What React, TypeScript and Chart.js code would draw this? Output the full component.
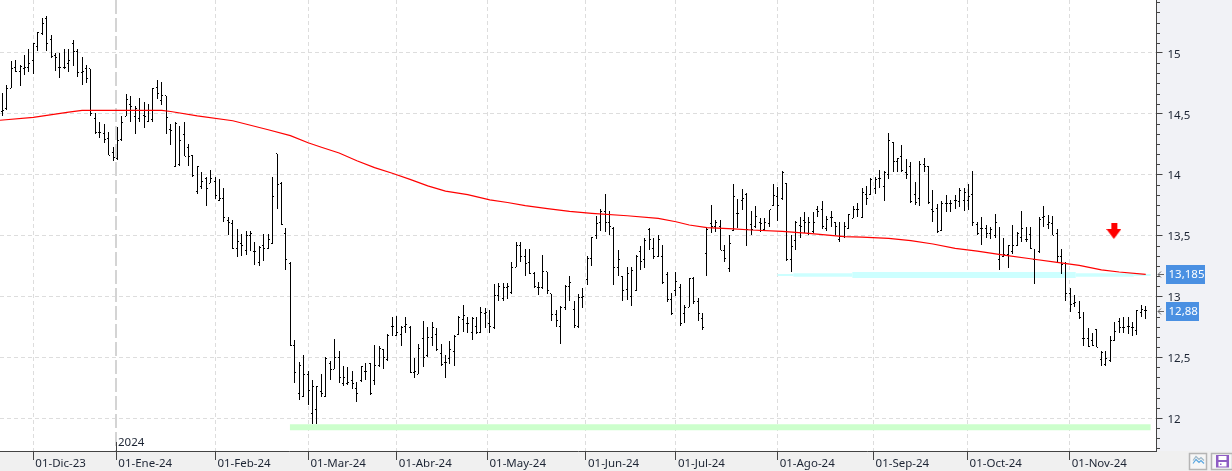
import React, { useEffect, useRef } from "react";
import { Chart, registerables } from "chart.js";

Chart.register(...registerables);

const highs = [14.67,14.74,14.93,14.94,14.90,14.98,15.03,15.08,15.17,15.29,15.30,15.15,15.00,15.00,15.03,15.03,15.11,15.03,14.97,14.90,14.87,14.51,14.43,14.42,14.35,14.23,14.39,14.48,14.66,14.65,14.56,14.63,14.60,14.58,14.71,14.78,14.76,14.65,14.42,14.43,14.40,14.43,14.25,14.16,14.07,14.02,13.98,14.04,13.98,13.96,13.89,13.65,
13.63,13.55,13.51,13.54,13.54,13.45,13.41,13.51,13.51,13.98,14.17,13.94,13.56,
13.28,12.64,12.46,12.52,12.39,12.31,12.26,12.36,12.50,12.47,12.65,12.55,12.43,12.42,12.39,12.30,12.43,12.45,12.45,12.60,12.59,12.57,12.69,12.83,12.84,12.76,12.83,12.76,12.49,12.61,12.80,12.75,12.79,12.74,12.61,12.52,12.63,12.68,12.84,12.93,12.83,12.83,12.83,12.91,12.90,12.89,13.10,13.11,13.11,13.11,13.28,13.45,13.45,13.39,13.39,13.20,13.12,13.34,13.20,13.02,12.89,12.92,
13.09,13.17,12.96,13.02,13.07,13.33,13.49,13.66,13.72,13.84,13.70,13.57,13.38,13.17,13.24,13.24,13.34,13.41,13.48,13.56,13.48,13.50,13.42,13.20,13.03,13.20,13.10,12.93,13.15,13.16,12.99,12.86,13.56,13.75,13.63,13.63,13.42,13.50,13.92,13.80,13.88,13.85,13.70,13.74,13.64,13.64,13.71,13.92,13.90,14.03,13.93,13.50,13.62,13.65,13.69,13.65,13.69,13.74,13.78,13.66,13.70,13.61,13.61,13.61,13.68,
13.74,13.77,13.89,13.91,13.97,13.98,14.04,14.03,14.34,14.27,14.14,14.24,14.13,14.10,13.94,14.11,14.14,14.07,13.87,13.76,13.78,13.83,13.79,13.83,13.89,13.89,13.92,14.03,13.61,13.65,13.59,13.57,13.68,13.57,13.48,13.42,13.59,13.53,13.70,13.57,13.57,13.39,13.65,13.74,13.67,13.66,13.55,13.39,13.28,13.07,13.01,12.96,12.87,12.74,12.70,12.73,12.55,12.55,12.67,12.79,12.82,12.83,12.83,12.79,12.89,12.93,12.92];

const lows = [14.48,14.53,14.71,14.84,14.73,14.82,14.84,14.83,15.02,15.15,15.02,14.96,14.85,14.79,14.87,14.84,14.89,14.80,14.74,14.75,14.48,14.33,14.30,14.26,14.16,14.11,14.12,14.28,14.48,14.43,14.33,14.43,14.38,14.43,14.43,14.62,14.57,14.33,14.24,14.06,14.07,14.15,14.07,13.98,13.84,13.88,13.74,13.93,13.80,13.78,13.61,13.50,
13.39,13.32,13.33,13.34,13.37,13.26,13.25,13.29,13.39,13.43,13.72,13.59,13.22,
12.59,12.29,12.15,12.17,12.11,11.95,11.95,12.17,12.17,12.31,12.40,12.29,12.26,12.27,12.24,12.13,12.30,12.31,12.19,12.27,12.42,12.40,12.47,12.67,12.67,12.59,12.70,12.37,12.33,12.36,12.42,12.50,12.59,12.55,12.43,12.33,12.44,12.43,12.68,12.71,12.70,12.64,12.69,12.70,12.74,12.70,12.73,12.96,12.96,12.98,13.02,13.24,13.28,13.17,13.18,13.07,13.01,13.06,13.02,12.80,12.75,12.61,
12.89,12.96,12.74,12.74,12.90,13.09,13.25,13.47,13.54,13.53,13.50,13.09,13.17,12.96,12.97,12.92,13.04,13.22,13.23,13.38,13.31,13.32,13.10,12.95,12.85,13.00,12.76,12.78,12.91,12.94,12.80,12.72,13.17,13.52,13.53,13.38,13.28,13.20,13.54,13.56,13.71,13.41,13.50,13.56,13.53,13.54,13.57,13.74,13.62,13.79,13.29,13.20,13.38,13.48,13.52,13.50,13.52,13.65,13.55,13.54,13.57,13.50,13.45,13.48,13.55,
13.64,13.65,13.64,13.75,13.83,13.84,13.89,13.78,13.96,14.02,14.02,14.02,13.96,13.77,13.75,13.74,14.02,13.76,13.61,13.52,13.54,13.69,13.69,13.72,13.73,13.70,13.71,13.58,13.50,13.42,13.48,13.47,13.48,13.22,13.32,13.23,13.35,13.41,13.45,13.45,13.39,13.10,13.36,13.57,13.55,13.50,13.28,13.18,12.96,12.87,12.91,12.81,12.59,12.58,12.59,12.58,12.43,12.43,12.46,12.63,12.70,12.70,12.69,12.67,12.68,12.83,12.81];

const opens = [14.52,14.54,14.71,14.88,14.85,14.87,14.88,14.94,15.05,15.16,15.28,15.11,14.98,14.88,14.88,14.91,15.08,15.01,14.84,14.87,14.87,14.46,14.35,14.34,14.30,14.18,14.13,14.29,14.48,14.58,14.48,14.46,14.49,14.44,14.45,14.72,14.61,14.65,14.37,14.07,14.08,14.33,14.22,14.16,13.86,13.90,13.97,13.93,13.94,13.79,13.80,13.62,
13.60,13.39,13.43,13.38,13.50,13.37,13.28,13.42,13.39,13.43,14.17,13.93,13.52,
13.27,12.60,12.20,12.18,12.36,12.04,12.07,12.22,12.18,12.45,12.40,12.50,12.28,12.28,12.31,12.24,12.31,12.38,12.45,12.31,12.43,12.56,12.48,12.75,12.68,12.69,12.75,12.74,12.37,12.36,12.65,12.51,12.66,12.69,12.53,12.46,12.49,12.55,12.69,12.81,12.78,12.70,12.75,12.70,12.86,12.78,12.74,13.01,12.98,13.07,13.03,13.24,13.42,13.33,13.28,13.19,13.07,13.07,13.20,13.02,12.85,12.75,
12.91,13.08,12.89,12.75,12.99,13.14,13.31,13.50,13.61,13.70,13.61,13.56,13.24,13.16,13.06,13.00,13.05,13.37,13.30,13.55,13.39,13.33,13.33,13.18,12.97,13.05,13.07,12.86,12.91,13.15,12.96,12.82,13.35,13.60,13.57,13.57,13.38,13.23,13.54,13.68,13.79,13.84,13.59,13.57,13.61,13.55,13.60,13.75,13.82,13.80,13.93,13.30,13.46,13.58,13.62,13.52,13.53,13.71,13.71,13.56,13.65,13.61,13.47,13.49,13.56,
13.64,13.71,13.65,13.84,13.84,13.89,13.97,13.90,14.00,14.26,14.11,14.15,14.02,14.07,13.84,13.80,14.08,14.07,13.71,13.72,13.54,13.76,13.76,13.79,13.78,13.79,13.79,13.84,13.59,13.56,13.56,13.52,13.50,13.30,13.33,13.34,13.37,13.42,13.48,13.47,13.51,13.30,13.37,13.65,13.59,13.60,13.52,13.33,13.27,13.02,12.94,12.87,12.65,12.65,12.64,12.73,12.48,12.44,12.47,12.64,12.79,12.74,12.75,12.74,12.72,12.87,12.88];

const closes = [14.53,14.71,14.87,14.85,14.89,14.88,14.91,15.08,15.17,15.24,15.08,14.97,14.96,14.88,14.88,14.94,15.01,14.84,14.85,14.79,14.50,14.35,14.35,14.29,14.16,14.14,14.28,14.43,14.62,14.56,14.54,14.53,14.48,14.53,14.71,14.67,14.65,14.47,14.36,14.42,14.28,14.15,14.15,13.99,14.07,13.94,13.89,13.97,13.83,13.80,13.65,13.61,
13.39,13.45,13.42,13.50,13.52,13.37,13.40,13.39,13.47,13.82,13.92,13.59,13.30,
12.60,12.37,12.43,12.36,12.23,12.26,12.26,12.20,12.49,12.40,12.50,12.33,12.33,12.29,12.28,12.20,12.42,12.38,12.20,12.43,12.57,12.50,12.68,12.75,12.70,12.74,12.77,12.37,12.38,12.57,12.50,12.66,12.74,12.56,12.44,12.46,12.56,12.67,12.83,12.84,12.78,12.82,12.70,12.87,12.87,12.75,13.01,13.08,13.07,13.08,13.24,13.42,13.33,13.27,13.19,13.08,13.07,13.20,13.05,12.85,12.80,12.91,
13.08,13.11,12.76,12.99,13.00,13.31,13.48,13.60,13.70,13.61,13.57,13.24,13.30,13.05,13.19,13.21,13.33,13.29,13.46,13.47,13.33,13.47,13.11,12.97,12.86,13.12,12.78,12.91,13.15,12.96,12.86,12.74,13.55,13.57,13.61,13.38,13.31,13.43,13.82,13.68,13.80,13.55,13.55,13.66,13.60,13.61,13.71,13.83,13.75,14.02,13.30,13.41,13.61,13.57,13.61,13.61,13.61,13.70,13.57,13.63,13.65,13.57,13.49,13.57,13.67,
13.71,13.71,13.85,13.80,13.96,13.96,13.97,14.02,14.28,14.11,14.13,14.03,14.00,13.78,13.77,14.08,14.07,13.77,13.70,13.53,13.76,13.76,13.76,13.79,13.87,13.85,13.82,13.61,13.52,13.56,13.52,13.55,13.61,13.34,13.34,13.42,13.42,13.52,13.56,13.47,13.39,13.30,13.63,13.66,13.61,13.50,13.33,13.26,13.02,12.93,12.95,12.83,12.65,12.59,12.60,12.58,12.54,12.49,12.64,12.71,12.74,12.74,12.75,12.74,12.88,12.89,12.88];

// Moving average at these bars
const maBars = [-0.52,7,15,18,26,36,38,44,52,60,65,69,72,76,80,84,88,92,96,100,105,110,114,118,123,128,133,141,148,152,155,159,165,169,176,182,190,194,200,205,210,215,220,226,232,238,243,248,252,258];
const maValues = [14.447,14.471,14.514,14.528,14.528,14.528,14.519,14.483,14.443,14.369,14.32,14.262,14.225,14.178,14.114,14.058,14.011,13.961,13.908,13.865,13.836,13.793,13.771,13.745,13.721,13.698,13.682,13.662,13.641,13.613,13.586,13.564,13.555,13.545,13.534,13.518,13.49,13.487,13.476,13.457,13.43,13.394,13.372,13.339,13.309,13.279,13.254,13.218,13.2,13.18];

const monthBars = [7,25.73,48.08,69.08,89.03,109.48,131.7,152,174.95,196.6,217.8,240.86];
const monthLabels = ["01-Dic-23","01-Ene-24","01-Feb-24","01-Mar-24","01-Abr-24","01-May-24","01-Jun-24","01-Jul-24","01-Ago-24","01-Sep-24","01-Oct-24","01-Nov-24"];
const yearBar = 25.73;
const yearLabel = "2024";

const priceTicks = [12,12.5,13,13.5,14,14.5,15];
const greenLevel = 11.925;
const greenFrom = 64.9;
const greenTo = 259.1;
const cyanLevel = 13.175;
const cyanBreaks = [174.9,178.5,191.8,242.2,255.3,259.1];
const signalBar = 250.8;
const signalPrice = 13.537;
const maLast = 13.185;
const closeLast = 12.88;

const FONT = '"Noto Sans", sans-serif';
const FONT_SIZE = 11.5;
const INK = "#1c2433";
const AXIS = "#444444";

function tickCanvas(side: "left" | "right") {
  const c = document.createElement("canvas");
  c.width = 3;
  c.height = 1;
  const g = c.getContext("2d")!;
  g.fillStyle = "#000";
  g.fillRect(side === "left" ? 0 : 2, 0, 1, 1);
  return c;
}

function arrowCanvas() {
  const c = document.createElement("canvas");
  c.width = 15;
  c.height = 16;
  const g = c.getContext("2d")!;
  g.fillStyle = "#ff0000";
  g.fillRect(5, 0, 6, 7);
  g.beginPath();
  g.moveTo(0, 6);
  g.lineTo(15, 6);
  g.lineTo(7.5, 16);
  g.closePath();
  g.fill();
  return c;
}

const crispBars = {
  id: "crispBars",
  afterDatasetsUpdate(chart: any) {
    chart.data.datasets.forEach((ds: any, idx: number) => {
      if (!ds.crisp) return;
      chart.getDatasetMeta(idx).data.forEach((el: any) => {
        el.x = Math.floor(el.x) + 0.5;
        if (ds.type === "bar") {
          el.y = Math.round(el.y);
          el.base = Math.round(el.base);
        } else {
          el.y = Math.floor(el.y) + 0.5;
        }
      });
    });
  },
};

const panels = {
  id: "panels",
  beforeDraw(chart: any) {
    const { ctx, width, height, chartArea: a } = chart;
    ctx.save();
    ctx.fillStyle = "#ffffff";
    ctx.fillRect(0, 0, width, height);
    ctx.fillStyle = "#f1f2f6";
    ctx.fillRect(a.right, 0, width - a.right, a.bottom);
    ctx.fillStyle = "#f0f0f0";
    ctx.fillRect(0, a.bottom, width, height - a.bottom);
    ctx.restore();
  },
  beforeDatasetsDraw(chart: any) {
    const { ctx, chartArea: a, scales } = chart;
    const x = Math.round(scales.x.getPixelForValue(yearBar));
    ctx.save();
    ctx.strokeStyle = "#d4d4d4";
    ctx.lineWidth = 2;
    ctx.setLineDash([14, 4]);
    ctx.beginPath();
    ctx.moveTo(x, 0);
    ctx.lineTo(x, a.bottom);
    ctx.stroke();
    ctx.restore();
  },
  afterDraw(chart: any) {
    const { ctx, chartArea: a, scales } = chart;
    const y = scales.y;
    ctx.save();
    // Minor ticks of the price axis
    ctx.strokeStyle = AXIS;
    ctx.lineWidth = 1;
    const step = 0.5 / 6;
    for (let k = -4; k <= 41; k++) {
      if (((k % 6) + 6) % 6 === 0) continue;
      const py = Math.round(y.getPixelForValue(12 + k * step)) + 0.5;
      if (py < 0 || py > a.bottom) continue;
      ctx.beginPath();
      ctx.moveTo(a.right, py);
      ctx.lineTo(a.right + 3.5, py);
      ctx.stroke();
    }
    // Year marker
    const yx = Math.round(scales.x.getPixelForValue(yearBar)) + 0.5;
    ctx.strokeStyle = AXIS;
    ctx.beginPath();
    ctx.moveTo(yx, a.bottom - 9);
    ctx.lineTo(yx, a.bottom);
    ctx.stroke();
    ctx.font = `${FONT_SIZE}px ${FONT}`;
    ctx.fillStyle = INK;
    ctx.textBaseline = "middle";
    ctx.textAlign = "left";
    ctx.fillText(yearLabel, yx + 1.5, a.bottom - 8);
    // Last-value flags
    const flag = (value: number, text: string, w: number) => {
      const py = y.getPixelForValue(value);
      const top = Math.round(py) - 9;
      ctx.fillStyle = "#4a90e2";
      ctx.fillRect(1166, top, w, 19);
      ctx.fillStyle = "#ffffff";
      ctx.font = `${FONT_SIZE}px ${FONT}`;
      ctx.textBaseline = "middle";
      ctx.fillText(text, 1168.5, top + 10);
      ctx.strokeStyle = "#666666";
      ctx.lineWidth = 1;
      const m = top + 9.5;
      ctx.beginPath();
      ctx.moveTo(1164, m);
      ctx.lineTo(1158, m);
      ctx.moveTo(1161, m - 3);
      ctx.lineTo(1158, m);
      ctx.lineTo(1161, m + 3);
      ctx.stroke();
    };
    flag(maLast, String(maLast).replace(".", ","), 39);
    flag(closeLast, String(closeLast).replace(".", ","), 33);
    // Toolbar buttons
    ctx.strokeStyle = "#b5b5b5";
    ctx.lineWidth = 1.5;
    ctx.fillStyle = "#f6f6f6";
    ctx.fillRect(1189.5, 453.5, 17, 16);
    ctx.strokeRect(1189.5, 453.5, 17, 16);
    ctx.fillRect(1211.5, 453.5, 21, 16);
    ctx.strokeRect(1211.5, 453.5, 21, 16);
    ctx.lineWidth = 1.2;
    const wave = (color: string, dy: number) => {
      ctx.strokeStyle = color;
      ctx.beginPath();
      ctx.moveTo(1193, 462 + dy);
      ctx.lineTo(1196, 458 + dy);
      ctx.lineTo(1199, 461 + dy);
      ctx.lineTo(1201, 459 + dy);
      ctx.lineTo(1204, 462 + dy);
      ctx.stroke();
    };
    wave("#9fb8c8", -1.5);
    wave("#5aa7e0", 1.5);
    ctx.fillStyle = "#8e5cc4";
    ctx.fillRect(1216, 455, 13, 12.5);
    ctx.fillStyle = "#ffffff";
    ctx.fillRect(1218.5, 456, 8, 4);
    ctx.fillRect(1218.5, 462, 8, 4.5);
    ctx.fillStyle = "#8e5cc4";
    ctx.fillRect(1220, 463.5, 1.5, 1.5);
    ctx.restore();
  },
};

export default function App() {
  const ref = useRef<HTMLCanvasElement | null>(null);

  useEffect(() => {
    document.body.style.margin = "0";
    const line = (pts: { x: number; y: number }[], color: string, width: number, order: number) => ({
      type: "line" as const,
      data: pts,
      borderColor: color,
      borderWidth: width,
      pointRadius: 0,
      borderCapStyle: "butt" as const,
      order,
    });
    const cyanSegment = (i: number, width: number) =>
      line(
        [
          { x: cyanBreaks[i], y: cyanLevel },
          { x: cyanBreaks[i + 1], y: cyanLevel },
        ],
        "#ccffff",
        width,
        10
      );
    const marks = (values: number[], side: "left" | "right") => ({
      type: "line" as const,
      data: values.map((v, i) => ({ x: i, y: v })),
      showLine: false,
      pointStyle: tickCanvas(side),
      pointRadius: 1,
      pointBorderWidth: 0,
      crisp: true,
      order: 4,
    });

    const chart = new Chart(ref.current!, {
      type: "bar",
      data: {
        datasets: [
          line(maBars.map((b, i) => ({ x: b, y: maValues[i] })), "#ff0000", 1.2, 1),
          {
            type: "line",
            data: [{ x: signalBar, y: signalPrice }],
            showLine: false,
            pointStyle: arrowCanvas(),
            pointRadius: 8,
            order: 2,
          },
          marks(opens, "left"),
          marks(closes, "right"),
          {
            type: "bar",
            data: lows.map((l, i) => ({ x: i, y: [l, highs[i]] })),
            backgroundColor: "#000000",
            barThickness: 1,
            inflateAmount: 0,
            grouped: false,
            crisp: true,
            order: 5,
          },
          cyanSegment(0, 2),
          cyanSegment(1, 3.4),
          cyanSegment(2, 6),
          cyanSegment(3, 3.4),
          cyanSegment(4, 2),
          line(
            [
              { x: greenFrom, y: greenLevel },
              { x: greenTo, y: greenLevel },
            ],
            "#ccffcc",
            6,
            11
          ),
        ] as any,
      },
      options: {
        responsive: false,
        animation: false,
        devicePixelRatio: 1,
        events: [],
        layout: { padding: 0, autoPadding: false },
        plugins: { legend: { display: false }, tooltip: { enabled: false } },
        scales: {
          x: {
            type: "linear",
            min: -0.519,
            max: 260.43,
            offset: false,
            afterFit(s: any) {
              s.height = 20;
              s.paddingLeft = 0;
              s.paddingRight = 0;
            },
            afterBuildTicks(s: any) {
              s.ticks = monthBars.map((v) => ({ value: v }));
            },
            grid: {
              offset: false,
              color: (c: any) => (c.tick && c.tick.value === yearBar ? "transparent" : "#dddddd"),
              lineWidth: 1,
              tickLength: 9,
              tickColor: AXIS,
            },
            border: { color: AXIS, width: 1, dash: [4, 3] },
            ticks: {
              autoSkip: false,
              maxRotation: 0,
              minRotation: 0,
              align: "start",
              labelOffset: 2,
              padding: -3,
              color: INK,
              font: { family: FONT, size: FONT_SIZE },
              callback: (v: any) => monthLabels[monthBars.indexOf(v)] ?? "",
            },
          },
          y: {
            type: "linear",
            position: "right",
            min: 11.729,
            max: 15.435,
            afterFit(s: any) {
              s.width = 75.5;
              s.paddingTop = 0;
              s.paddingBottom = 0;
            },
            afterBuildTicks(s: any) {
              s.ticks = priceTicks.map((v) => ({ value: v }));
            },
            grid: { color: "#dddddd", lineWidth: 1, tickLength: 6, tickColor: AXIS },
            border: { color: AXIS, width: 1, dash: [4, 3] },
            ticks: {
              padding: 5,
              labelOffset: 1.5,
              color: INK,
              font: { family: FONT, size: FONT_SIZE },
              callback: (v: any) => String(v).replace(".", ","),
            },
          },
        },
      },
      plugins: [crispBars, panels],
    } as any);
    return () => chart.destroy();
  }, []);

  return <canvas ref={ref} width={1232} height={471} style={{ display: "block" }} />;
}
